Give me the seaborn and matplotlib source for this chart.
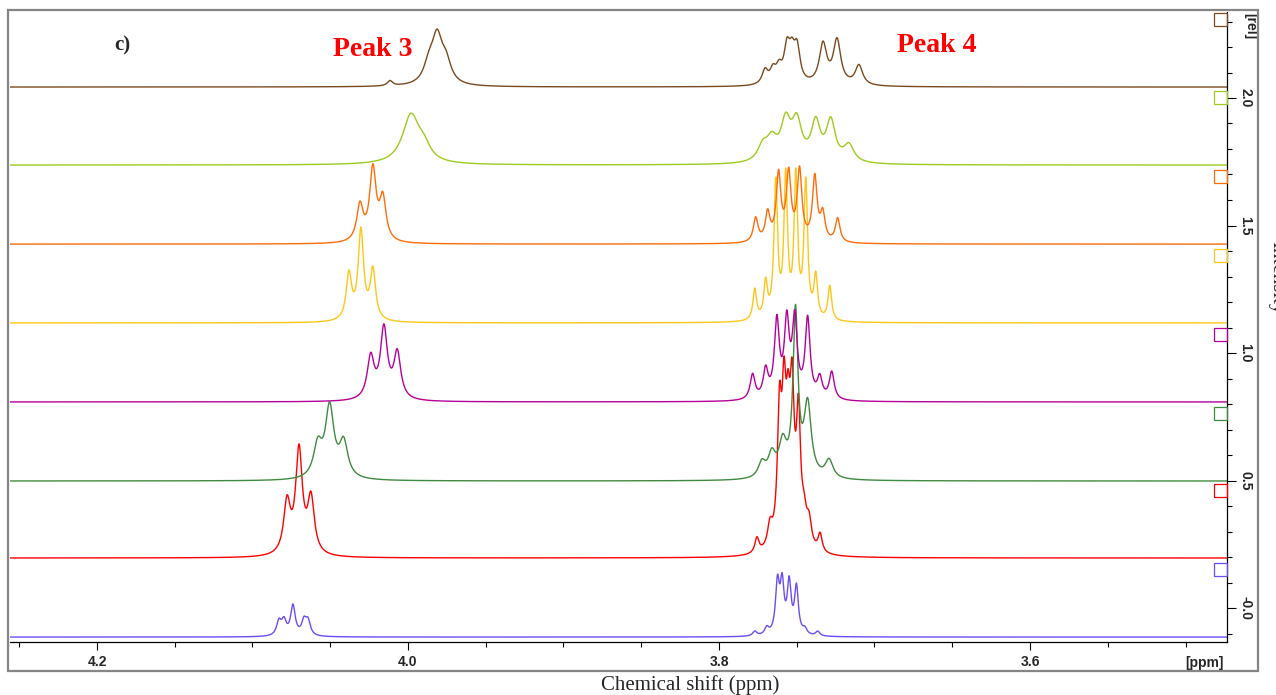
import numpy as np
import pandas as pd
import matplotlib
matplotlib.use("Agg")
import matplotlib.pyplot as plt
from matplotlib.patches import Rectangle
from matplotlib.ticker import FixedLocator, MultipleLocator
import seaborn as sns

sns.set_theme(style="white")
plt.rcParams['font.family'] = ['Liberation Sans', 'DejaVu Sans']

# ---------------- data ----------------
# spectra listed bottom -> top
spectra = ["blue", "red", "green", "magenta", "gold", "orange", "yellowgreen", "brown"]
colors = ["#6e4cf5", "#ff0000", "#3f8a3f", "#b5009c", "#ffc61a", "#ff6c0a", "#9ccc1c", "#7a4a1e"]
offsets = [-0.114, 0.196, 0.498, 0.808, 1.118, 1.427, 1.737, 2.043]

# peak lists: position (ppm), amplitude (rel), half width (ppm)
blue_pos = [4.0830, 4.0798, 4.0740, 4.0669, 4.0643, 3.7770, 3.7693, 3.7624, 3.7594, 3.7549, 3.7502, 3.7448, 3.7365]
blue_amp = [0.055, 0.055, 0.118, 0.055, 0.055, 0.018, 0.028, 0.196, 0.188, 0.196, 0.184, 0.022, 0.018]
blue_hw = [0.0018, 0.0018, 0.0018, 0.0018, 0.0018, 0.0016, 0.0016, 0.0015, 0.0015, 0.0015, 0.0015, 0.0016, 0.0016]

red_pos = [4.0778, 4.0701, 4.0624, 3.7756, 3.7672, 3.7611, 3.7582, 3.7556, 3.7530, 3.7489, 3.7543, 3.7453, 3.7421, 3.7350]
red_amp = [0.200, 0.405, 0.215, 0.059, 0.086, 0.490, 0.480, 0.345, 0.500, 0.480, 0.060, 0.098, 0.098, 0.071]
red_hw = [0.0026, 0.0026, 0.0026, 0.0016, 0.0019, 0.0016, 0.0016, 0.0016, 0.0016, 0.0016, 0.0051, 0.0019, 0.0019, 0.0016]

green_pos = [4.0580, 4.0504, 4.0414, 3.7724, 3.7660, 3.7590, 3.7508, 3.7430, 3.7292]
green_amp = [0.125, 0.275, 0.137, 0.059, 0.086, 0.130, 0.640, 0.282, 0.071]
green_hw = [0.0033, 0.0033, 0.0033, 0.0028, 0.0028, 0.0030, 0.0019, 0.0028, 0.0030]

magenta_pos = [4.0240, 4.0155, 4.0069, 3.7784, 3.7700, 3.7628, 3.7564, 3.7513, 3.7430, 3.7352, 3.7275]
magenta_amp = [0.165, 0.275, 0.180, 0.098, 0.110, 0.300, 0.290, 0.300, 0.310, 0.080, 0.108]
magenta_hw = [0.0027, 0.0027, 0.0027, 0.0019, 0.0019, 0.0019, 0.0019, 0.0019, 0.0019, 0.0019, 0.0019]

gold_pos = [4.0380, 4.0303, 4.0226, 3.7770, 3.7700, 3.7635, 3.7571, 3.7506, 3.7442, 3.7378, 3.7288]
gold_amp = [0.180, 0.350, 0.196, 0.120, 0.140, 0.530, 0.550, 0.550, 0.530, 0.165, 0.135]
gold_hw = [0.0021, 0.0021, 0.0021, 0.0014, 0.0014, 0.0014, 0.0014, 0.0014, 0.0014, 0.0014, 0.0014]

orange_pos = [4.0309, 4.0226, 4.0162, 3.7764, 3.7687, 3.7617, 3.7552, 3.7482, 3.7384, 3.7333, 3.7237]
orange_amp = [0.141, 0.282, 0.165, 0.094, 0.110, 0.260, 0.260, 0.275, 0.250, 0.105, 0.094]
orange_hw = [0.0025, 0.0025, 0.0025, 0.0018, 0.0018, 0.0018, 0.0018, 0.0018, 0.0018, 0.0018, 0.0018]

yellowgreen_pos = [3.9981, 3.9898, 3.7718, 3.7660, 3.7571, 3.7500, 3.7378, 3.7281, 3.7165]
yellowgreen_amp = [0.190, 0.050, 0.059, 0.078, 0.149, 0.149, 0.149, 0.157, 0.067]
yellowgreen_hw = [0.0066, 0.0050, 0.0040, 0.0040, 0.0038, 0.0038, 0.0035, 0.0035, 0.0040]

brown_pos = [4.0116, 3.9865, 3.9813, 3.9756, 3.7704, 3.7653, 3.7614, 3.7563, 3.7531, 3.7498, 3.7331, 3.7241, 3.7100]
brown_amp = [0.020, 0.070, 0.175, 0.080, 0.055, 0.051, 0.055, 0.129, 0.098, 0.129, 0.157, 0.173, 0.078]
brown_hw = [0.0020, 0.0040, 0.0040, 0.0040, 0.0023, 0.0023, 0.0023, 0.0023, 0.0023, 0.0023, 0.0029, 0.0029, 0.0029]

x_major = [4.2, 4.0, 3.8, 3.6]
x_labels = ["4.2", "4.0", "3.8", "3.6"]
y_major = [0.0, 0.5, 1.0, 1.5, 2.0]
y_labels = ["-0.0", "0.5", "1.0", "1.5", "2.0"]

peaks = {
    "blue": (blue_pos, blue_amp, blue_hw),
    "red": (red_pos, red_amp, red_hw),
    "green": (green_pos, green_amp, green_hw),
    "magenta": (magenta_pos, magenta_amp, magenta_hw),
    "gold": (gold_pos, gold_amp, gold_hw),
    "orange": (orange_pos, orange_amp, orange_hw),
    "yellowgreen": (yellowgreen_pos, yellowgreen_amp, yellowgreen_hw),
    "brown": (brown_pos, brown_amp, brown_hw),
}

# ---------------- figure ----------------
W, H = 1276, 695
fig = plt.figure(figsize=(W / 100, H / 100), dpi=100)
fig.patch.set_facecolor("white")

# pixel calibration of the axes
ax_l, ax_r, ax_t, ax_b = 10, 1227, 12, 642
ax = fig.add_axes([ax_l / W, 1 - ax_b / H, (ax_r - ax_l) / W, (ax_b - ax_t) / H])
ppm_per_px = 0.2 / 311.0
xmax = 4.2 + (97 - ax_l) * ppm_per_px
xmin = 4.2 - (ax_r - 97) * ppm_per_px
rel_per_px = 0.5 / 127.5
ymin = 0.0 - (ax_b - 608) * rel_per_px
ymax = 2.0 + (98 - ax_t) * rel_per_px

grid = np.linspace(xmax, xmin, 6000)
frames = []
for name, off in zip(spectra, offsets):
    pos, amp, hw = peaks[name]
    y = np.full_like(grid, off)
    for p, a, w in zip(pos, amp, hw):
        y = y + a / (1.0 + ((grid - p) / w) ** 2)
    frames.append(pd.DataFrame({"ppm": grid, "intensity": y, "spectrum": name}))
df = pd.concat(frames, ignore_index=True)

sns.lineplot(data=df, x="ppm", y="intensity", hue="spectrum", hue_order=spectra,
             palette=dict(zip(spectra, colors)), estimator=None, sort=False,
             legend=False, linewidth=1.0, ax=ax)

ax.set_xlim(xmax, xmin)
ax.set_ylim(ymin, ymax)
ax.set_xlabel("")
ax.set_ylabel("")

# small open squares at the right edge, one per spectrum
sq_w = 13 * ppm_per_px
sq_h = 13 * rel_per_px
for off, c in zip(offsets, colors):
    top = off + 0.29
    ax.add_patch(Rectangle((xmin + sq_w, top - sq_h), -sq_w, sq_h, fill=False,
                           edgecolor=c, linewidth=0.9, clip_on=False, zorder=5))

# spines
for s in ["top", "left"]:
    ax.spines[s].set_visible(False)
for s in ["bottom", "right"]:
    ax.spines[s].set_color("black")
    ax.spines[s].set_linewidth(0.9)

# x ticks
ax.xaxis.set_major_locator(FixedLocator(x_major))
ax.xaxis.set_minor_locator(MultipleLocator(0.05))
ax.set_xticklabels(x_labels, fontweight="bold", fontsize=10)
ax.tick_params(axis="x", which="major", direction="out", length=6, width=0.8,
               color="black", pad=3, bottom=True)
ax.tick_params(axis="x", which="minor", direction="out", length=3.8, width=0.8,
               color="black", bottom=True)

# y ticks on the right
ax.yaxis.tick_right()
ax.yaxis.set_major_locator(FixedLocator(y_major))
ax.yaxis.set_minor_locator(MultipleLocator(0.1))
ax.set_yticklabels(y_labels, rotation=-90, va="center", fontweight="bold", fontsize=10)
ax.tick_params(axis="y", which="major", direction="out", length=6.3, width=0.8,
               color="black", pad=2, right=True, left=False)
ax.tick_params(axis="y", which="minor", direction="out", length=3.8, width=0.8,
               color="black", right=True, left=False)

# outer frame
fig.add_artist(Rectangle((8 / W, 1 - 671 / H), (1258 - 8) / W, (671 - 10) / H,
                         transform=fig.transFigure, fill=False,
                         edgecolor="#858585", linewidth=1.6, zorder=10))

def fx(px):
    return px / W

def fy(py):
    return 1 - py / H

serif = ["Liberation Serif", "DejaVu Serif"]
fig.text(fx(122), fy(45), "c)", fontsize=15, fontweight="bold", family=serif,
         ha="center", va="center")
fig.text(fx(373), fy(50), "Peak 3", fontsize=20, fontweight="bold", family=serif,
         color="#ff0000", ha="center", va="center")
fig.text(fx(937), fy(45), "Peak 4", fontsize=20, fontweight="bold", family=serif,
         color="#ff0000", ha="center", va="center")
fig.text(fx(690), fy(685), "Chemical shift (ppm)", fontsize=15, family=serif,
         ha="center", va="center")
fig.text(fx(1224), fy(663), "[ppm]", fontsize=10, fontweight="bold",
         ha="right", va="center")
fig.text(fx(1250), fy(26), "[rel]", fontsize=10, fontweight="bold",
         rotation=-90, ha="center", va="center")
fig.text(fx(1267), fy(278), "Intensity", fontsize=15, family=serif,
         rotation=-90, ha="left", va="center")

fig.savefig("out.png", dpi=100, facecolor="white")
